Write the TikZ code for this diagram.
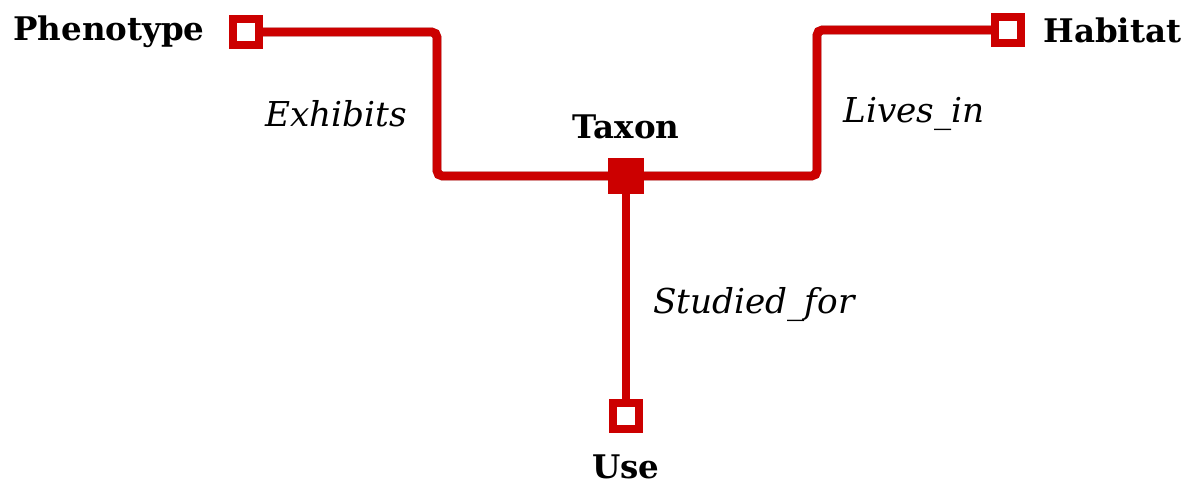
\documentclass[tikz,border=0pt]{standalone}
\usepackage{fontspec}
\setmainfont{DejaVu Serif}
\usepackage{xcolor}
\usepackage{tikz}
\usetikzlibrary{calc,positioning}
\definecolor{linkc}{HTML}{CC0000}
\definecolor{shadec}{HTML}{000000}
\tikzset{
  link/.style={linkc,line width=5pt,rounded corners=3pt},
  endbox/.style={draw=linkc,line width=4.5pt,fill=white,inner sep=0pt,minimum size=0.52cm},
  hubbox/.style={draw=linkc,line width=1pt,fill=linkc,inner sep=0pt,minimum size=0.68cm},
  ename/.style={font=\fontsize{18.5}{22}\selectfont\bfseries,inner sep=0pt},
  rname/.style={font=\fontsize{19.5}{23}\selectfont\itshape,inner sep=0pt},
  shadow/.style={shadec,opacity=0.12,line width=5pt,rounded corners=3pt}
}
\begin{document}
\begin{tikzpicture}[x=0.02cm,y=-0.02cm]
\useasboundingbox (0,0) rectangle (1191,492);
% entities
\node[endbox] (pheno) at (246,32) {};
\node[endbox] (habitat) at (1008,30) {};
\node[endbox] (use) at (626,416) {};
\node[hubbox] (taxon) at (626,176) {};
\coordinate (elbowL) at (437,100);
\coordinate (elbowR) at (817,100);
% shadows
\foreach \sh in {3,5,7}{
\begin{scope}[shift={(\sh,\sh+1)}]
\draw[shadow] (pheno.east) -- (pheno -| elbowL) -- (elbowL |- taxon) -- (taxon.west);
\draw[shadow] (taxon.east) -- (elbowR |- taxon) -- (elbowR |- habitat) -- (habitat.west);
\draw[shadow] (taxon.south) -- (use.north);
\fill[shadec,opacity=0.12] ($(pheno)+(-17,-17)$) rectangle ($(pheno)+(17,17)$);
\fill[shadec,opacity=0.12] ($(habitat)+(-17,-17)$) rectangle ($(habitat)+(17,17)$);
\fill[shadec,opacity=0.12] ($(use)+(-17,-17)$) rectangle ($(use)+(17,17)$);
\fill[shadec,opacity=0.3] ($(taxon)+(-17,-17)$) rectangle ($(taxon)+(17,17)$);
\end{scope}
}
% links
\draw[link] (pheno.east) -- (pheno -| elbowL) -- (elbowL |- taxon) -- (taxon.west);
\draw[link] (taxon.east) -- (elbowR |- taxon) -- (elbowR |- habitat) -- (habitat.west);
\draw[link] (taxon.south) -- (use.north);
\node[endbox] at (pheno) {};
\node[endbox] at (habitat) {};
\node[endbox] at (use) {};
\node[hubbox] at (taxon) {};
% labels
\node[ename,anchor=east] (phenolbl) at (205,32) {Phenotype};
\node[ename,anchor=west] (habitatlbl) at (1043,30) {Habitat};
\node[ename] (taxonlbl) at (626,127) {Taxon};
\node[ename] (uselbl) at (626,467) {Use};
\node[rname] (exhibits) at (336,114) {Exhibits};
\node[rname] (livesin) at (914,114) {Lives\_in};
\node[rname] (studied) at (754,305) {Studied\_for};
\end{tikzpicture}
\end{document}
